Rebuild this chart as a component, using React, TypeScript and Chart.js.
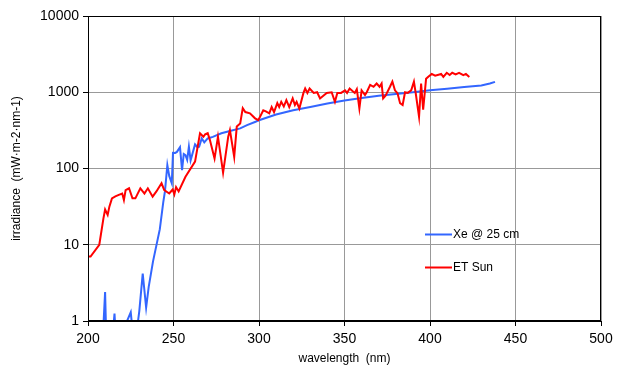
import React, { useEffect, useRef } from 'react';
import { Chart, registerables } from 'chart.js';

Chart.register(...registerables);

// ---- data ----
const xeWavelength = [
  208, 210, 211, 214, 215.5, 216.5, 221, 225, 226.5, 229, 230, 232, 234, 235.5, 238,
  242, 244, 245, 246.4, 247.5, 249, 249.7, 251, 252, 253.8, 255, 256, 257, 258, 259,
  260, 262.6, 264, 265, 266.5, 268, 270, 273, 278, 283, 289, 293, 298, 300, 310, 320,
  330, 340, 350, 360, 370, 380, 390, 400, 410, 420, 430, 435, 438,
];
const xeIrradiance = [
  0.3, 2.4, 0.3, 0.5, 1.25, 0.5, 0.8, 1.3, 0.6, 0.9, 1.35, 4.2, 1.5, 2.8, 6,
  16, 36, 50, 111, 80, 64, 161, 160, 165, 190, 95, 155, 150, 130, 193,
  128, 207, 190, 193, 248, 220, 248, 260, 290, 310, 336, 370, 410, 430, 510, 580,
  640, 710, 780, 840, 900, 950, 1000, 1060, 1110, 1170, 1230, 1300, 1370,
];

const sunWavelength = [
  200, 201.5, 206.6, 209, 210, 211.5, 212.5, 214, 216, 218, 220, 221, 222, 224, 226,
  227.7, 230.6, 232, 233, 235, 237.8, 240, 243, 244.6, 247.5, 249.5, 250.5, 251.5, 253, 257,
  262.6, 265.5, 267.5, 268.5, 270, 271.3, 274, 276, 279, 282, 283, 285.5, 287, 289, 290.5,
  292, 294.7, 297.7, 299.6, 302.5, 304, 306, 307.4, 308.8, 310.7, 311.8, 313, 314.5, 316, 317.7,
  319.7, 321, 322, 323.6, 326, 327, 328.3, 329.6, 332, 334, 335.7, 339.6, 342.5, 344.4, 345.8,
  348, 350.3, 351.5, 353, 355, 356, 357.2, 358.7, 360, 362, 363, 365, 367, 368.8, 370.5,
  371.7, 372.6, 374, 376.6, 378, 379.5, 381, 382.5, 384, 385.4, 387, 389, 390.6, 391.8, 393.6,
  394.8, 396, 397.7, 399, 401, 403, 405, 406.5, 407.8, 409.8, 411.5, 413, 415, 417, 419.5,
  421, 423,
];
const sunIrradiance = [
  7, 7, 10, 22, 29, 24.6, 31.6, 40.6, 43, 45, 47, 38.6, 52, 55, 40.6,
  40.6, 55, 50, 47, 55, 42.7, 50, 64, 52, 47, 53, 45.7, 57, 50, 78,
  123, 290, 261, 280, 290, 236, 135, 261, 88, 261, 318, 142, 355, 390, 618,
  550, 530, 455, 430, 580, 560, 530, 640, 550, 720, 640, 750, 650, 790, 640,
  830, 680, 750, 610, 980, 1120, 980, 1120, 980, 1000, 830, 980, 1000, 750, 980,
  980, 1060, 980, 1120, 1020, 980, 1100, 610, 1060, 920, 1000, 1250, 1180, 1300, 1180,
  1300, 830, 900, 1180, 1380, 1060, 970, 720, 680, 1000, 980, 1060, 1380, 920, 475,
  1300, 590, 1500, 1600, 1740, 1650, 1700, 1740, 1590, 1800, 1680, 1800, 1720, 1800, 1680,
  1740, 1590,
];

const seriesLabels = ['Xe @ 25 cm', 'ET Sun'];
const xTickValues = [200, 250, 300, 350, 400, 450, 500];
const yTickValues = [1, 10, 100, 1000, 10000];
const xTitle = 'wavelength  (nm)';
const yTitle = 'irradiance  (mW·m-2·nm-1)';

const FONT = '"Liberation Sans", Arial, sans-serif';

const insideLegend = {
  id: 'insideLegend',
  afterDraw(chart: any) {
    const { ctx, chartArea } = chart;
    const x0 = chartArea.left + 337;
    chart.data.datasets.forEach((ds: any, i: number) => {
      const y = chartArea.top + 218.5 + i * 33;
      ctx.save();
      ctx.strokeStyle = ds.borderColor;
      ctx.lineWidth = 2;
      ctx.beginPath();
      ctx.moveTo(x0, y);
      ctx.lineTo(x0 + 27, y);
      ctx.stroke();
      ctx.fillStyle = '#000';
      ctx.font = `12px ${FONT}`;
      ctx.textBaseline = 'middle';
      ctx.textAlign = 'left';
      ctx.fillText(ds.label, x0 + 28, y);
      ctx.restore();
    });
  },
};

const frameBox = {
  id: 'frameBox',
  afterDatasetsDraw(chart: any) {
    const { ctx, chartArea } = chart;
    ctx.save();
    ctx.strokeStyle = '#000';
    ctx.lineWidth = 1;
    const l = Math.round(chartArea.left) + 0.5;
    const t = Math.round(chartArea.top) + 0.5;
    const r = Math.round(chartArea.right) - 0.5;
    const b = Math.round(chartArea.bottom) - 0.5;
    ctx.strokeRect(l, t, r - l, b - t);
    ctx.restore();
  },
};

export default function App() {
  const ref = useRef<HTMLCanvasElement | null>(null);

  useEffect(() => {
    if (!ref.current) return;
    const chart = new Chart(ref.current, {
      type: 'line',
      data: {
        datasets: [
          {
            label: seriesLabels[0],
            data: xeWavelength.map((x, i) => ({ x, y: xeIrradiance[i] })),
            borderColor: '#3366ff',
            borderWidth: 2,
            pointRadius: 0,
            tension: 0,
            fill: false,
            order: 1,
          },
          {
            label: seriesLabels[1],
            data: sunWavelength.map((x, i) => ({ x, y: sunIrradiance[i] })),
            borderColor: '#ff0000',
            borderWidth: 2,
            pointRadius: 0,
            tension: 0,
            fill: false,
            order: 0,
          },
        ],
      },
      options: {
        animation: false,
        responsive: true,
        maintainAspectRatio: false,
        layout: { padding: { top: 16, right: 19, left: 0, bottom: 0 } },
        plugins: {
          legend: { display: false },
          tooltip: { enabled: false },
        },
        scales: {
          x: {
            type: 'linear',
            min: 200,
            max: 500,
            afterBuildTicks: (axis: any) => {
              axis.ticks = xTickValues.map((v) => ({ value: v }));
            },
            afterFit: (scale: any) => {
              scale.height = 57;
            },
            grid: { color: '#999', tickColor: '#000', tickLength: 5, lineWidth: 1 },
            border: { color: '#000', width: 1 },
            ticks: {
              color: '#000',
              font: { family: FONT, size: 14 },
              padding: 5,
              maxRotation: 0,
              callback: (v: any) => String(v),
            },
            title: {
              display: true,
              text: xTitle,
              color: '#000',
              font: { family: FONT, size: 12 },
              padding: { top: 0, bottom: 12 },
            },
          },
          y: {
            type: 'logarithmic',
            min: 1,
            max: 10000,
            afterBuildTicks: (axis: any) => {
              axis.ticks = yTickValues.map((v) => ({ value: v }));
            },
            afterFit: (scale: any) => {
              scale.width = 88;
            },
            grid: { color: '#999', tickColor: '#000', tickLength: 5, lineWidth: 1 },
            border: { color: '#000', width: 1 },
            ticks: {
              color: '#000',
              font: { family: FONT, size: 14 },
              padding: 4,
              callback: (v: any) => String(v),
            },
            title: {
              display: true,
              text: yTitle,
              color: '#000',
              font: { family: FONT, size: 12 },
              padding: { top: 9, bottom: 0 },
            },
          },
        },
      },
      plugins: [frameBox, insideLegend],
    });
    return () => chart.destroy();
  }, []);

  return (
    <div style={{ position: 'fixed', left: 0, top: 0, width: 620, height: 378, background: '#fff' }}>
      <canvas ref={ref} />
    </div>
  );
}
